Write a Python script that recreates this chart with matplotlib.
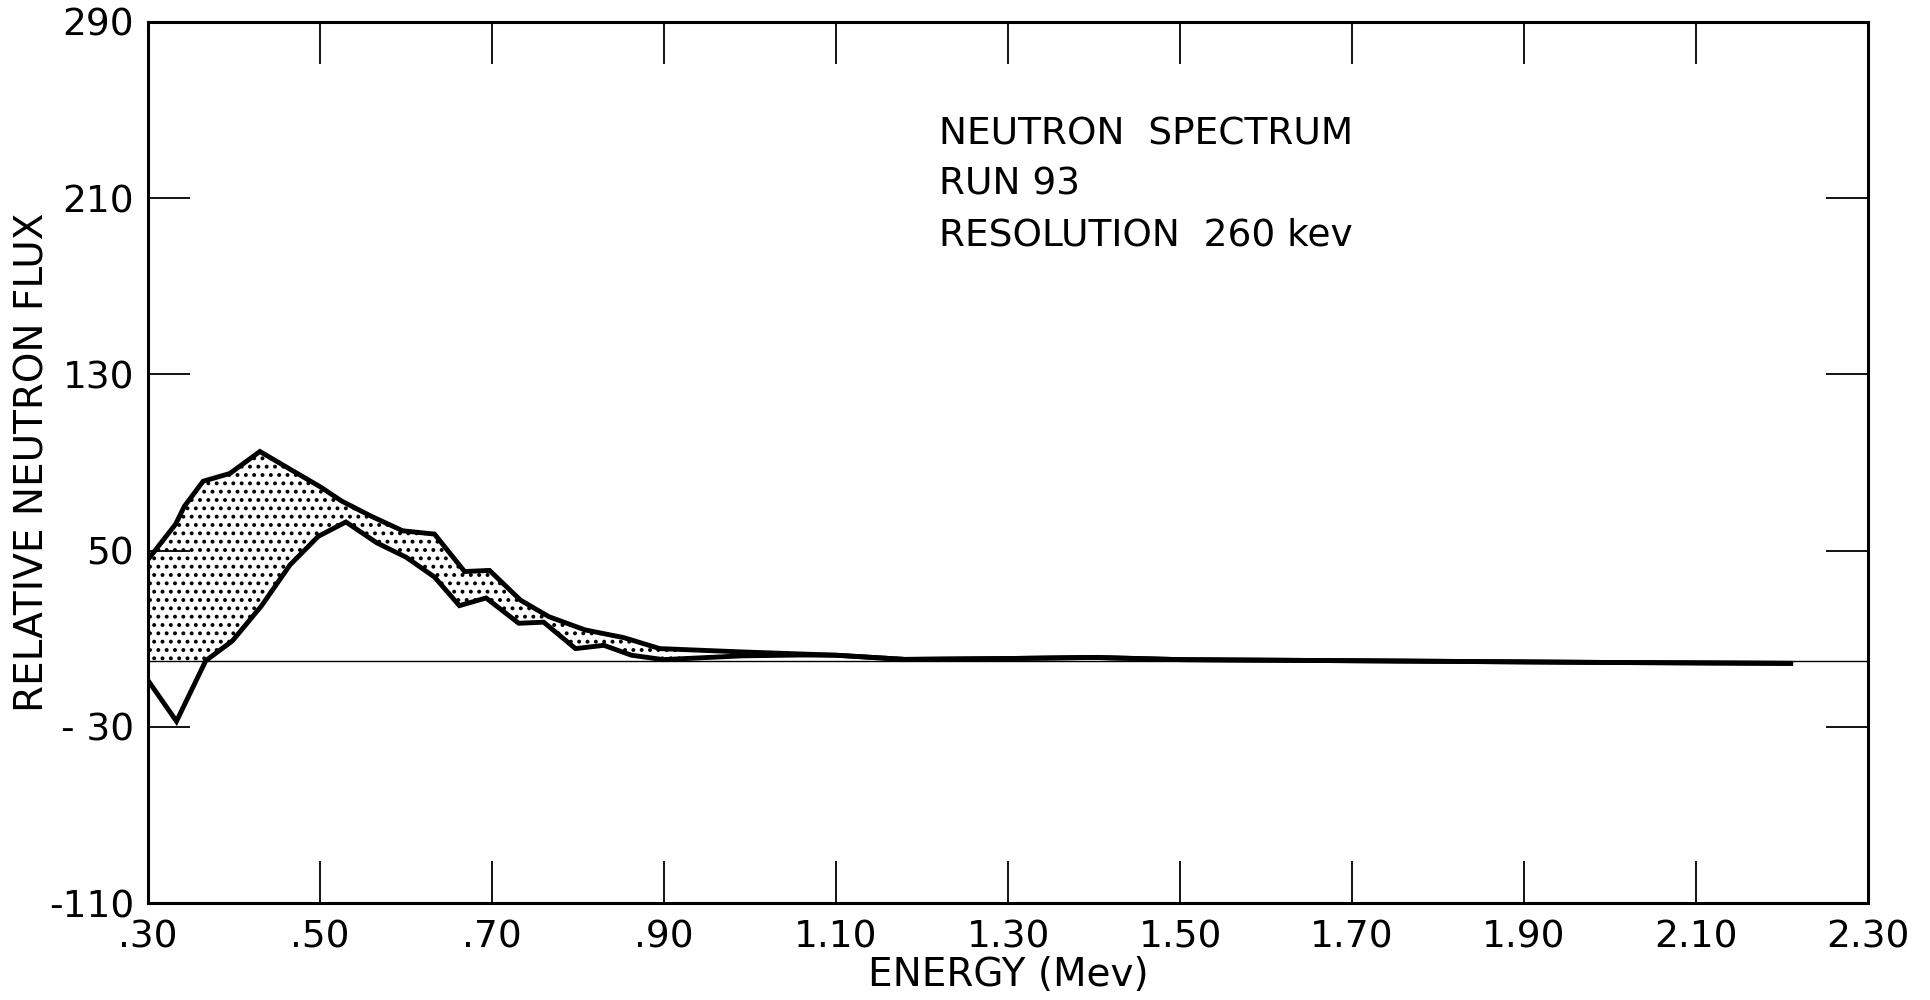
import matplotlib
matplotlib.use('Agg')
import matplotlib.pyplot as plt
import numpy as np

# ── data ────────────────────────────────────────────────────
energy_upper = [0.30, 0.332, 0.342, 0.364, 0.395, 0.430, 0.467, 0.500, 0.525,
                0.560, 0.596, 0.633, 0.668, 0.697, 0.733, 0.766, 0.808, 0.853,
                0.895, 0.99, 1.10, 1.18, 1.30, 1.40, 1.50, 1.70, 2.00, 2.21]
flux_upper = [46, 62, 70, 81.5, 85, 95, 86.5, 79, 72.5,
              65.5, 59, 57.5, 40.5, 41, 27.5, 20, 14, 10.5,
              5.5, 4.0, 2.5, 0.6, 1.0, 1.5, 0.5, 0.0, -0.8, -1.2]

energy_lower = [0.30, 0.333, 0.367, 0.398, 0.432, 0.465, 0.498, 0.530, 0.566,
                0.600, 0.633, 0.662, 0.693, 0.731, 0.760, 0.797, 0.830, 0.862,
                0.899, 0.99, 1.06, 1.10, 1.18, 1.30, 1.40, 1.50, 1.70, 2.00, 2.21]
flux_lower = [-9, -27.5, 0, 9, 25, 43.5, 56.5, 63, 53.5,
              47, 38, 25, 28.5, 17, 17.5, 5.5, 7, 2.5,
              0.5, 2.2, 2.6, 2.5, 0.6, 1.0, 1.5, 0.5, 0.0, -0.8, -1.2]

xticks = [0.30, 0.50, 0.70, 0.90, 1.10, 1.30, 1.50, 1.70, 1.90, 2.10, 2.30]
xticklabels = ['.30', '.50', '.70', '.90', '1.10', '1.30', '1.50', '1.70', '1.90', '2.10', '2.30']
yticks = [-110, -30, 50, 130, 210, 290]
yticklabels = ['-110', '- 30', '50', '130', '210', '290']

plt.rcParams.update({
    'font.family': ['DejaVu Sans'],
    'hatch.linewidth': 1.6,
    'hatch.color': 'black',
})

fig = plt.figure(figsize=(19.31, 10.0), dpi=100)
ax = fig.add_axes([0.0767, 0.097, 0.8907, 0.881])

# shaded band between the two curves (clipped at zero below)
grid = np.union1d(energy_upper, energy_lower)
up = np.interp(grid, energy_upper, flux_upper)
lo = np.maximum(np.interp(grid, energy_lower, flux_lower), 0)
ax.fill_between(grid, lo, up, where=up >= lo, facecolor='none', edgecolor='black',
                hatch='..', linewidth=0, interpolate=True)

ax.axhline(0, color='black', linewidth=1.0, zorder=2)
ax.plot(energy_upper, flux_upper, color='black', linewidth=3.5, solid_joinstyle='miter', zorder=3)
ax.plot(energy_lower, flux_lower, color='black', linewidth=3.5, solid_joinstyle='miter', zorder=3)

ax.set_xlim(0.30, 2.30)
ax.set_ylim(-110, 290)
ax.set_xticks(xticks)
ax.set_xticklabels(xticklabels, fontsize=27)
ax.set_yticks(yticks)
ax.set_yticklabels(yticklabels, fontsize=27)
ax.tick_params(direction='in', length=30, width=1.3, top=True, right=True)
ax.tick_params(axis='x', pad=12)
ax.tick_params(axis='y', pad=10)
for s in ax.spines.values():
    s.set_linewidth(2.2)

ax.set_xlabel('ENERGY (Mev)', fontsize=28, labelpad=0)
ax.set_ylabel('RELATIVE NEUTRON FLUX', fontsize=28, labelpad=-2)

ax.text(1.22, 239, 'NEUTRON  SPECTRUM', fontsize=27, va='center')
ax.text(1.22, 216, 'RUN 93', fontsize=27, va='center')
ax.text(1.22, 193, 'RESOLUTION  260 kev', fontsize=27, va='center')

fig.savefig('out.png', dpi=100, facecolor='white')
